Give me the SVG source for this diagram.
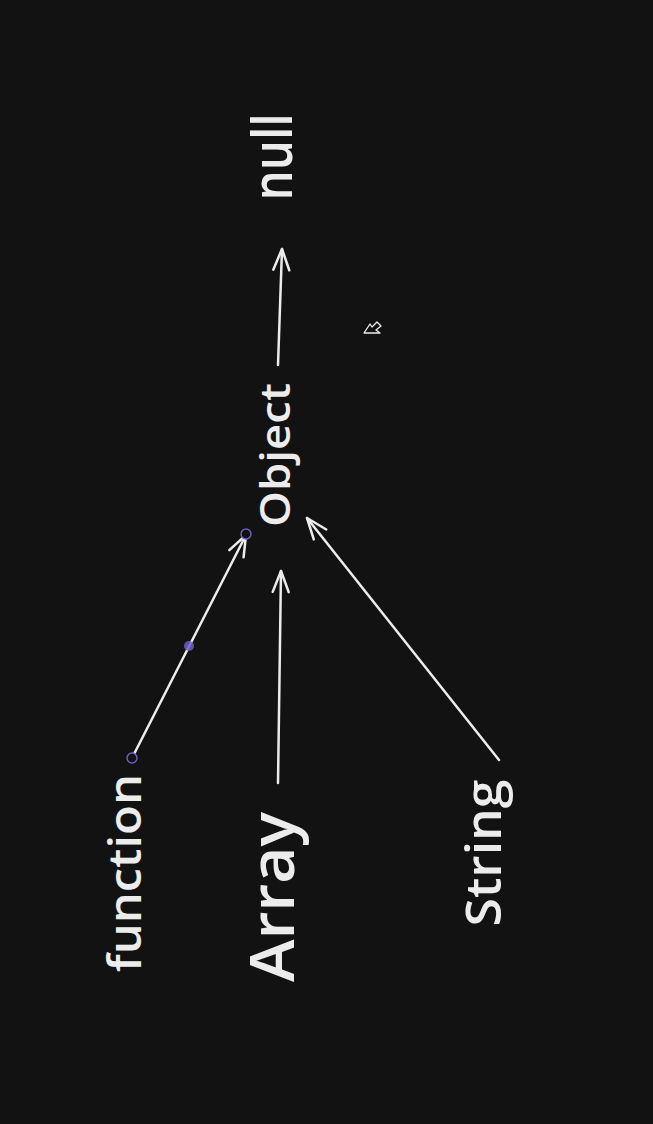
<svg xmlns="http://www.w3.org/2000/svg" width="653" height="1124" viewBox="0 0 653 1124">
  <style>
    .lbl { font-family: "Open Sans", "Liberation Sans", sans-serif; fill: #ececec; font-weight: 600; text-anchor: middle; }
    .conn { stroke: #ececec; stroke-width: 2.5; fill: none; stroke-linecap: round; marker-end: url(#arr); }
    .handle { fill: #121212; stroke: #6a5fc1; stroke-width: 1.5; }
  </style>
  <defs>
    <marker id="arr" markerUnits="userSpaceOnUse" markerWidth="40" markerHeight="40" refX="0" refY="0" viewBox="-25 -20 30 40" orient="auto" overflow="visible">
      <path d="M -21 -8 L 0 0 L -21 8" fill="none" stroke="#ececec" stroke-width="2.5" stroke-linecap="round" stroke-linejoin="round"/>
    </marker>
  </defs>
  <rect width="653" height="1124" fill="#121212"/>

  <g id="connectors">
    <line class="conn" x1="278" y1="365" x2="282" y2="249"/>
    <line class="conn" x1="278" y1="783" x2="281" y2="571"/>
    <line class="conn" x1="132" y1="758" x2="246" y2="535"/>
    <line class="conn" x1="499" y1="760" x2="307" y2="518"/>
    <circle class="handle" cx="246" cy="534" r="5"/>
    <circle class="handle" cx="132" cy="758" r="5"/>
    <circle cx="189" cy="646" r="5" fill="#6a5fc1" opacity="0.85"/>
  </g>

  <g id="node-null">
    <text class="lbl" transform="translate(292,157) rotate(-90)" font-size="56" textLength="87" lengthAdjust="spacingAndGlyphs">null</text>
  </g>
  <g id="node-object">
    <text class="lbl" transform="translate(290,455) rotate(-90)" font-size="42" textLength="144" lengthAdjust="spacingAndGlyphs">Object</text>
  </g>
  <g id="node-function">
    <text class="lbl" transform="translate(141,873) rotate(-90)" font-size="46" textLength="198" lengthAdjust="spacingAndGlyphs">function</text>
  </g>
  <g id="node-array">
    <text class="lbl" transform="translate(294,897) rotate(-90)" font-size="62" textLength="170" lengthAdjust="spacingAndGlyphs">Array</text>
  </g>
  <g id="node-string">
    <text class="lbl" transform="translate(501,853) rotate(-90)" font-size="48" textLength="147" lengthAdjust="spacingAndGlyphs">String</text>
  </g>

  <g id="cursor">
    <path d="M 364 333 L 370 324 L 372 327 L 377 322 L 381 326 L 376 330 L 380 333 Z" fill="none" stroke="#ececec" stroke-width="1.3" stroke-linejoin="round"/>
  </g>
</svg>
